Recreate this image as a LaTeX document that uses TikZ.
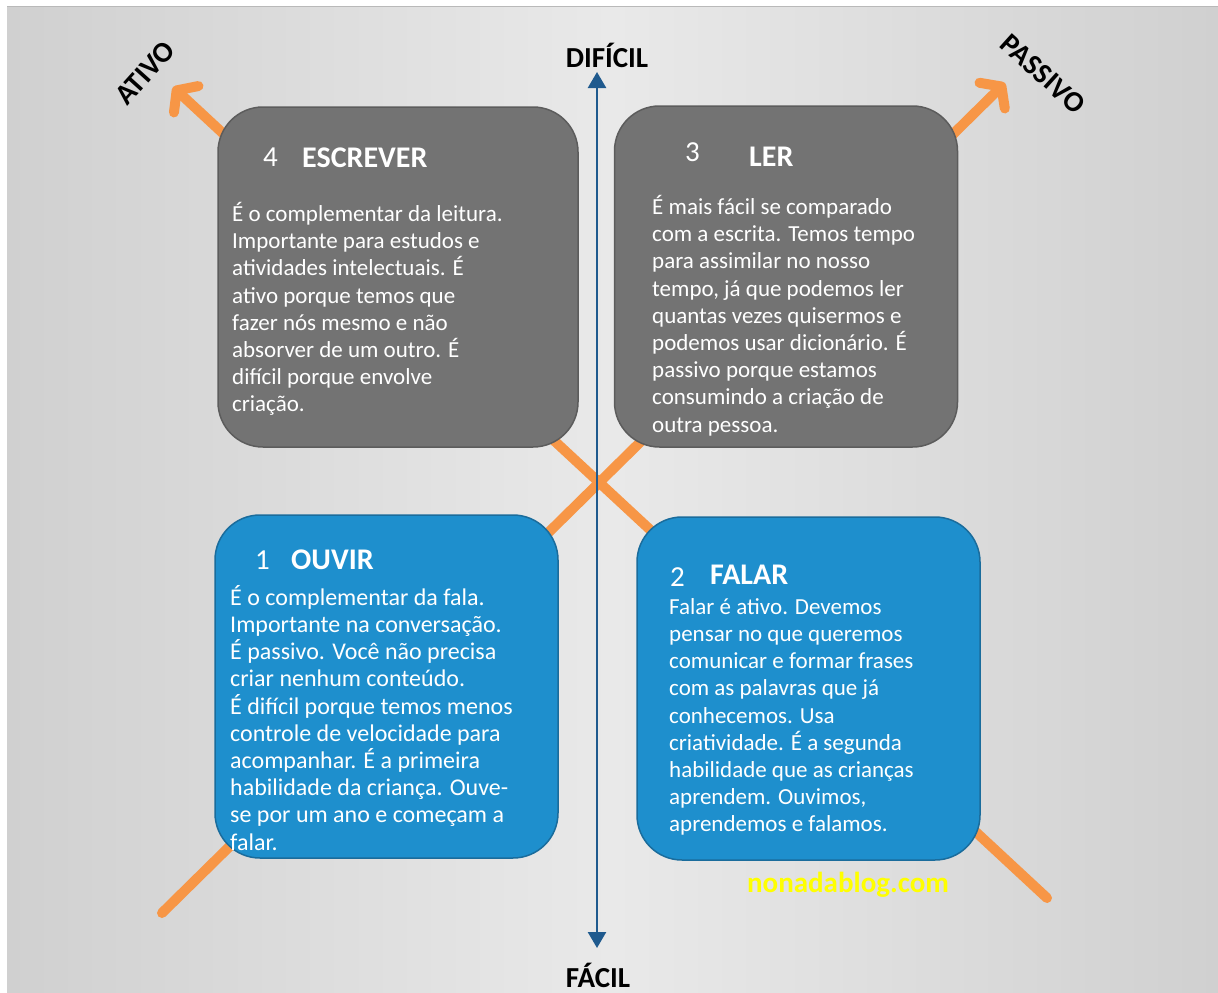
\documentclass[tikz,border=0pt]{standalone}
\usepackage{fontspec}
\setmainfont{Carlito}
\usepackage{tikz}
\usetikzlibrary{arrows.meta}

\definecolor{bgmid}{HTML}{E9E9E9}
\definecolor{bgedge}{HTML}{D0D0D0}
\definecolor{boxblue}{HTML}{1E8FCD}
\definecolor{boxblueline}{HTML}{1A6C9C}
\definecolor{boxgray}{HTML}{737373}
\definecolor{boxgrayline}{HTML}{5C5C5C}
\definecolor{axisblue}{HTML}{1F5A8E}
\definecolor{skillorange}{HTML}{F79646}
\definecolor{siteyellow}{HTML}{FFFF00}

\tikzset{
  skillbox/.style={rectangle,rounded corners=45pt,line width=1.5pt,
    minimum width=343pt,minimum height=342pt,inner sep=0pt},
  bluebox/.style={skillbox,fill=boxblue,draw=boxblueline},
  graybox/.style={skillbox,fill=boxgray,draw=boxgrayline},
  boxnum/.style={anchor=base west,text=white,inner sep=0pt,
    font=\fontsize{29}{32}\selectfont},
  boxtitle/.style={boxnum,font=\fontsize{30}{32}\selectfont\bfseries},
  boxtext/.style={anchor=north west,text=white,inner sep=0pt,align=left,
    font=\fontsize{23}{27.2}\selectfont},
  pole/.style={font=\fontsize{29}{32}\selectfont\bfseries,inner sep=0pt},
  diag/.style={draw=skillorange,line width=10pt,line cap=round},
  diagtip/.style={-{Straight Barb[length=13pt,width=36pt,round]}},
  axis/.style={draw=axisblue,line width=2.5pt,
    {Triangle[length=16pt,width=18pt]}-{Triangle[length=16pt,width=18pt]}}
}

\begin{document}
\begin{tikzpicture}[x=1pt,y=-1pt]
\useasboundingbox (0,0) rectangle (1218,993);
% slide background
\fill[white] (0,0) rectangle (1218,993);
\shade[left color=bgedge,right color=bgedge,middle color=bgmid] (7,6) rectangle (1218,993);
\draw[line width=1pt,gray!55] (7,6) -- (1218,6);

% orange diagonals, behind the boxes
\coordinate (ativo tip) at (173,87);
\coordinate (passivo tip) at (1005,83);
\coordinate (ouvir end) at (162,913);
\coordinate (falar end) at (1047,898);
\draw[diag,diagtip] (ouvir end) -- (passivo tip);
\draw[diag,diagtip] (falar end) -- (ativo tip);
\node[pole,rotate=48] (ativo) at (145,73) {ATIVO};
\node[pole,rotate=-42] (passivo) at (1043,74) {PASSIVO};

% vertical axis
\node[pole] (dificil) at (607,55) {DIFÍCIL};
\node[pole] (facil) at (598,975) {FÁCIL};
\coordinate (hard end) at (597,72);
\coordinate (easy end) at (597,948);
\draw[axis] (easy end) -- (hard end);

% the four boxes
\node[graybox,minimum width=360pt,minimum height=340pt] (escrever) at (398,277) {};
\node[graybox,minimum height=341pt] (ler) at (786,276.5) {};
\node[bluebox,minimum height=343pt] (ouvir) at (386.5,686.5) {};
\node[bluebox,minimum height=343pt] (falar) at (808.5,688.5) {};

% 4 escrever
\node[boxnum] (n4) at (263,166) {4};
\node[boxtitle] (t4) at (302,167) {ESCREVER};
\node[boxtext] (b4) at (232,202) {\strut É o complementar da leitura.\\
Importante para estudos e\\
atividades intelectuais. É\\
ativo porque temos que\\
fazer nós mesmo e não\\
absorver de um outro. É\\
difícil porque envolve\\
criação.};

% 3 ler
\node[boxnum] (n3) at (685,161) {3};
\node[boxtitle] (t3) at (749,166) {LER};
\node[boxtext] (b3) at (652,195) {\strut É mais fácil se comparado\\
com a escrita. Temos tempo\\
para assimilar no nosso\\
tempo, já que podemos ler\\
quantas vezes quisermos e\\
podemos usar dicionário. É\\
passivo porque estamos\\
consumindo a criação de\\
outra pessoa.};

% 1 ouvir
\node[boxnum] (n1) at (255,569) {1};
\node[boxtitle] (t1) at (291,569) {OUVIR};
\node[boxtext,font=\fontsize{24}{27.2}\selectfont] (b1) at (230,585) {\strut É o complementar da fala.\\
Importante na conversação.\\
É passivo. Você não precisa\\
criar nenhum conteúdo.\\
É difícil porque temos menos\\
controle de velocidade para\\
acompanhar. É a primeira\\
habilidade da criança. Ouve-\\
se por um ano e começam a\\
falar.};

% 2 falar
\node[boxnum] (n2) at (670,586) {2};
\node[boxtitle] (t2) at (710,584) {FALAR};
\node[boxtext] (b2) at (669,595) {\strut Falar é ativo. Devemos\\
pensar no que queremos\\
comunicar e formar frases\\
com as palavras que já\\
conhecemos. Usa\\
criatividade. É a segunda\\
habilidade que as crianças\\
aprendem. Ouvimos,\\
aprendemos e falamos.};

\node[text=siteyellow,font=\fontsize{29}{32}\selectfont\bfseries] (site) at (848,885) {nonadablog.com};
\end{tikzpicture}
\end{document}
